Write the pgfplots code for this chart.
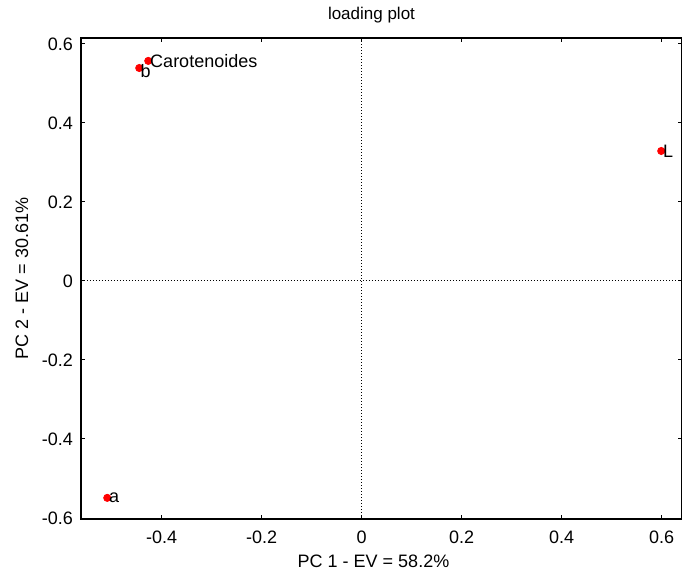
\documentclass[border=0pt]{standalone}
\usepackage{fontspec}
\setmainfont{Liberation Sans}
\usepackage{pgfplots}
\pgfplotsset{compat=1.18}
\usetikzlibrary{calc}
\begin{document}
\begin{tikzpicture}
\begin{axis}[
  name=ax,
  scale only axis,
  width=300.5pt, height=240.5pt,
  xmin=-0.5615, xmax=0.6405,
  ymin=-0.6025, ymax=0.615,
  xtick={-0.4,-0.2,0,0.2,0.4,0.6},
  ytick={-0.6,-0.4,-0.2,0,0.2,0.4,0.6},
  tick align=inside,
  major tick length=2pt,
  tick style={black, line width=0.5pt},
  axis line style={black, line width=0.6pt},
  /pgf/number format/assume math mode=true,
  /pgf/number format/fixed,
  ticklabel style={font=\fontsize{9}{10}\selectfont},
  xticklabel style={yshift=-2.5pt},
  yticklabel style={xshift=-0.5pt},
  title={loading plot},
  title style={font=\fontsize{8.5}{10}\selectfont, yshift=-2pt, xshift=-5pt},
  xlabel={PC 1 - EV = 58.2\%},
  ylabel={PC 2 - EV = 30.61\%},
  label style={font=\fontsize{9}{10}\selectfont},
  xlabel style={yshift=1.5pt, xshift=-4pt},
  ylabel style={yshift=0pt},
  clip=false,
]
\addplot[black, densely dotted, line width=0.5pt, forget plot] coordinates {(0,-0.6025) (0,0.615)};
\addplot[black, densely dotted, line width=0.5pt, forget plot] coordinates {(-0.5615,0) (0.6405,0)};
\addplot[only marks, mark=*, mark size=1.8pt, red, mark options={draw=red, fill=red},
  nodes near coords, point meta=explicit symbolic,
  nodes near coords style={font=\fontsize{9}{10}\selectfont, black, anchor=west, inner sep=0.8pt}]
  coordinates {(-0.427,0.557)[Carotenoides] (0.599,0.329)[L] (-0.509,-0.549)[a]};
\addplot[only marks, mark=*, mark size=1.8pt, red, mark options={draw=red, fill=red},
  nodes near coords, point meta=explicit symbolic,
  nodes near coords style={font=\fontsize{9}{10}\selectfont, black, anchor=west, inner sep=0.5pt, yshift=-1.5pt}]
  coordinates {(-0.445,0.539)[b]};
\end{axis}
\pgfresetboundingbox
\path ($(ax.south west)+(-40.5pt,-27pt)$) rectangle ($(ax.north east)+(0pt,19pt)$);
\end{tikzpicture}
\end{document}
